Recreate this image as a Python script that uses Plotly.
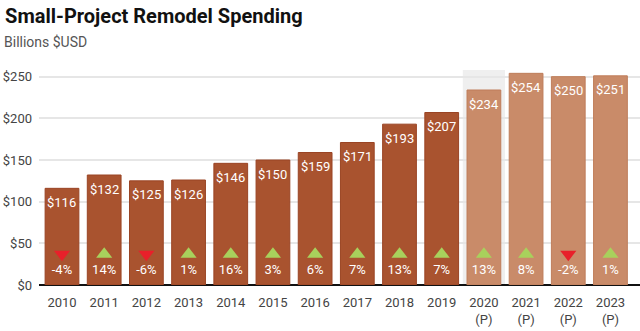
import plotly.graph_objects as go

# Small-project remodel spending, billions USD
years = ["2010", "2011", "2012", "2013", "2014", "2015", "2016", "2017",
         "2018", "2019", "2020<br>(P)", "2021<br>(P)", "2022<br>(P)", "2023<br>(P)"]
spending = [116, 132, 125, 126, 146, 150, 159, 171, 193, 207, 234, 254, 250, 251]
growth_pct = [-4, 14, -6, 1, 16, 3, 6, 7, 13, 7, 13, 8, -2, 1]
projected = [False] * 10 + [True] * 4
y_ticks = [0, 50, 100, 150, 200, 250]
y_tick_labels = ["$0", "$50", "$100", "$150", "$200", "$250"]

HIST_FILL, HIST_LINE = "#a9532f", "#9a4424"
PROJ_FILL, PROJ_LINE = "#c98b69", "#bf7d5a"
UP, DOWN = "#a8d15c", "#e8202a"
FONT = "Roboto, Arial, sans-serif"

xs = list(range(len(years)))
Y_MAX = 258

fig = go.Figure()

# highlight column behind the first projected year
first_proj = projected.index(True)
fig.add_shape(type="rect", xref="x", yref="y", layer="below",
              x0=first_proj - 0.5, x1=first_proj + 0.5, y0=0, y1=Y_MAX,
              fillcolor="#efefef", line_width=0)

fig.add_trace(go.Bar(
    x=xs, y=spending, width=0.8,
    marker=dict(color=[PROJ_FILL if p else HIST_FILL for p in projected],
                line=dict(color=[PROJ_LINE if p else HIST_LINE for p in projected], width=1)),
    hoverinfo="skip",
))

# change markers
fig.add_trace(go.Scatter(
    x=xs, y=[37] * len(xs), mode="markers",
    marker=dict(symbol=["triangle-up" if g >= 0 else "triangle-down" for g in growth_pct],
                color=[UP if g >= 0 else DOWN for g in growth_pct], size=14, line_width=0),
    hoverinfo="skip",
))

fig.add_trace(go.Scatter(
    x=xs, y=[17] * len(xs), mode="text",
    text=[f"{g}%" for g in growth_pct], textposition="middle center",
    textfont=dict(family=FONT, size=13, color="white"),
    hoverinfo="skip",
))

# value labels sit just under the top of each bar
value_labels = [dict(x=x, y=v, text=f"${v}", xref="x", yref="y", showarrow=False,
                     yshift=-14, yanchor="middle",
                     font=dict(family=FONT, size=13, color="white"))
                for x, v in zip(xs, spending)]

subtitle = dict(text="Billions $USD", xref="paper", yref="paper",
                x=-0.062, y=1.13, xanchor="left", yanchor="middle", showarrow=False,
                font=dict(family=FONT, size=14, color="#555555"))

fig.update_layout(
    width=640, height=331,
    margin=dict(l=39, r=0, t=70, b=46),
    plot_bgcolor="white", paper_bgcolor="white",
    showlegend=False, bargap=0.2,
    title=dict(text="<b>Small-Project Remodel Spending</b>",
               x=0.008, xanchor="left", y=0.952, yanchor="middle",
               font=dict(family=FONT, size=20, color="#111111", weight=900)),
    annotations=value_labels + [subtitle],
    xaxis=dict(tickmode="array", tickvals=xs, ticktext=years,
               range=[-0.545, 13.7], showgrid=False, zeroline=False,
               showline=False, ticks="", ticklabelstandoff=8,
               tickfont=dict(family=FONT, size=13, color="#444444")),
    yaxis=dict(tickmode="array", tickvals=y_ticks, ticktext=y_tick_labels,
               range=[0, Y_MAX], showgrid=True, gridcolor="#e6e6e6", gridwidth=1.5,
               zeroline=True, zerolinecolor="#111111", zerolinewidth=2,
               ticks="", ticklabelstandoff=6,
               tickfont=dict(family=FONT, size=13, color="#444444")),
)

fig.write_html("out.html")
